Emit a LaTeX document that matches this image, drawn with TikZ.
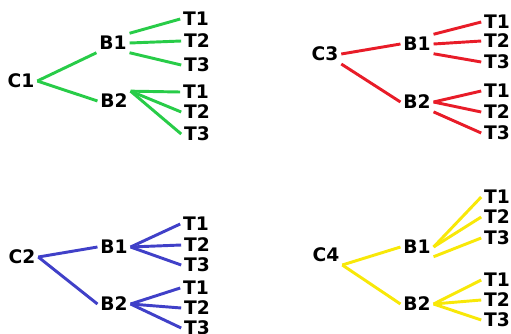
\documentclass[tikz,border=0pt]{standalone}
\usepackage{fontspec}
\setmainfont{DejaVu Sans}
\usetikzlibrary{positioning}
\definecolor{treegreen}{RGB}{40,204,72}
\definecolor{treered}{RGB}{232,28,40}
\definecolor{treeblue}{RGB}{64,64,200}
\definecolor{treeyellow}{RGB}{248,232,8}

\begin{document}
\begin{tikzpicture}[x=0.75pt, y=-0.75pt,
    lbl/.style={font=\fontsize{14}{16}\selectfont\bfseries, inner sep=2pt},
    edge/.style={line width=2.2pt}]
\useasboundingbox (0,0) rectangle (511,333);

% tree C1
\node[lbl] (c1) at (21,81) {C1};
\node[lbl] (b11) at (113,43) {B1};
\node[lbl] (b12) at (114,101) {B2};
\node[lbl] (t111) at (196,19) {T1};
\node[lbl] (t112) at (197,41) {T2};
\node[lbl] (t113) at (197,65) {T3};
\node[lbl] (t121) at (196,92) {T1};
\node[lbl] (t122) at (197,112) {T2};
\node[lbl] (t123) at (197,134) {T3};
\begin{scope}[edge, treegreen]
    \draw (c1.east) -- (b11.south west);
    \draw (c1.east) -- (b12.west);
    \draw (b11.north east) -- (t111.west);
    \draw (b11.east) -- (t112.west);
    \draw (b11.south east) -- (t113.west);
    \draw (b12.north east) -- (t121.west);
    \draw (b12.north east) -- (t122.west);
    \draw (b12.north east) -- (t123.west);
\end{scope}

% tree C3
\node[lbl] (c3) at (325,54) {C3};
\node[lbl] (b31) at (417,44) {B1};
\node[lbl] (b32) at (417,102) {B2};
\node[lbl] (t311) at (497,22) {T1};
\node[lbl] (t312) at (497,41) {T2};
\node[lbl] (t313) at (497,62) {T3};
\node[lbl] (t321) at (497,91) {T1};
\node[lbl] (t322) at (497,112) {T2};
\node[lbl] (t323) at (497,133) {T3};
\begin{scope}[edge, treered]
    \draw (c3.east) -- (b31.west);
    \draw (c3.south east) -- (b32.west);
    \draw (b31.north east) -- (t311.west);
    \draw (b31.east) -- (t312.west);
    \draw (b31.south east) -- (t313.west);
    \draw (b32.east) -- (t321.west);
    \draw (b32.east) -- (t322.west);
    \draw (b32.south east) -- (t323.west);
\end{scope}

% tree C2
\node[lbl] (c2) at (22,257) {C2};
\node[lbl] (b21) at (114,247) {B1};
\node[lbl] (b22) at (114,304) {B2};
\node[lbl] (t211) at (196,224) {T1};
\node[lbl] (t212) at (197,245) {T2};
\node[lbl] (t213) at (197,265) {T3};
\node[lbl] (t221) at (196,288) {T1};
\node[lbl] (t222) at (197,308) {T2};
\node[lbl] (t223) at (197,328) {T3};
\begin{scope}[edge, treeblue]
    \draw (c2.east) -- (b21.west);
    \draw (c2.east) -- (b22.west);
    \draw (b21.east) -- (t211.west);
    \draw (b21.east) -- (t212.west);
    \draw (b21.east) -- (t213.west);
    \draw (b22.east) -- (t221.west);
    \draw (b22.east) -- (t222.west);
    \draw (b22.east) -- (t223.west);
\end{scope}

% tree C4
\node[lbl] (c4) at (326,255) {C4};
\node[lbl] (b41) at (417,247) {B1};
\node[lbl] (b42) at (417,304) {B2};
\node[lbl] (t411) at (497,197) {T1};
\node[lbl] (t412) at (497,217) {T2};
\node[lbl] (t413) at (497,238) {T3};
\node[lbl] (t421) at (497,280) {T1};
\node[lbl] (t422) at (497,300) {T2};
\node[lbl] (t423) at (497,320) {T3};
\begin{scope}[edge, treeyellow]
    \draw (c4.south east) -- (b41.west);
    \draw (c4.south east) -- (b42.west);
    \draw (b41.east) -- (t411.west);
    \draw (b41.east) -- (t412.west);
    \draw (b41.south east) -- (t413.west);
    \draw (b42.east) -- (t421.west);
    \draw (b42.east) -- (t422.west);
    \draw (b42.east) -- (t423.west);
\end{scope}
\end{tikzpicture}
\end{document}
